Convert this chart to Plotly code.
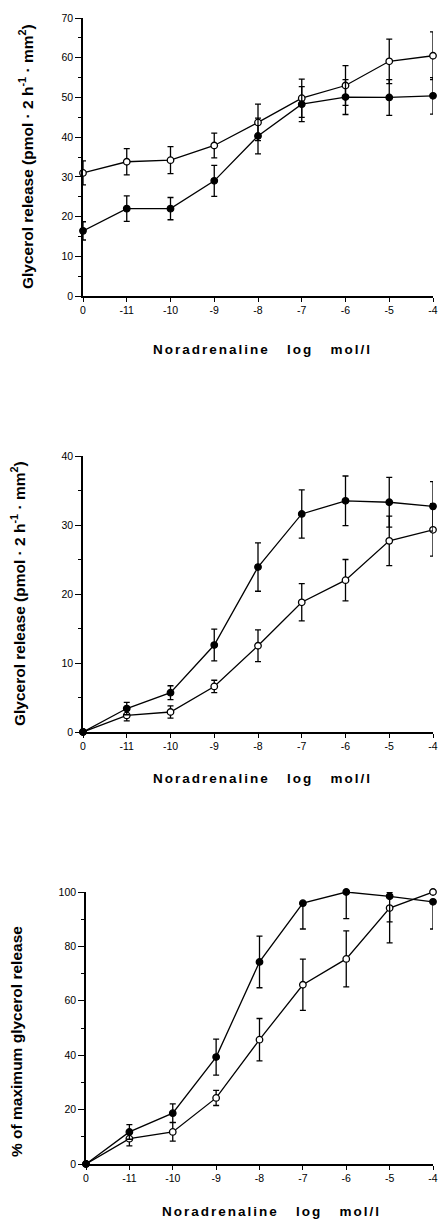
import plotly.graph_objects as go

W, H = 442, 1223

x_labels = ["0", "-11", "-10", "-9", "-8", "-7", "-6", "-5", "-4"]

# Panel 1
p1_filled = [16.4, 22.0, 22.0, 29.0, 40.3, 48.3, 50.1, 50.0, 50.4]
p1_filled_err = [2.3, 3.2, 2.8, 3.9, 4.5, 4.4, 4.4, 4.5, 4.6]
p1_open = [31.0, 33.8, 34.2, 37.9, 43.7, 49.8, 53.0, 59.1, 60.5]
p1_open_err = [3.0, 3.3, 3.4, 3.1, 4.6, 4.8, 5.0, 5.6, 6.0]

# Panel 2
p2_filled = [0, 3.4, 5.7, 12.6, 23.9, 31.6, 33.5, 33.3, 32.7]
p2_filled_err = [0, 0.9, 1.0, 2.3, 3.5, 3.5, 3.6, 3.6, 3.6]
p2_open = [0, 2.4, 2.9, 6.6, 12.5, 18.8, 22.0, 27.7, 29.3]
p2_open_err = [0, 0.8, 0.9, 0.9, 2.3, 2.7, 3.0, 3.6, 3.8]

# Panel 3
p3_filled = [0, 11.8, 18.7, 39.3, 74.3, 95.9, 100.0, 98.4, 96.4]
p3_filled_plus = [0, 2.7, 3.4, 6.6, 9.5, 0, 0, 1.5, 0]
p3_filled_minus = [0, 2.7, 3.4, 6.6, 9.5, 9.5, 9.8, 9.4, 10.0]
p3_open = [0, 9.3, 11.8, 24.3, 45.7, 65.9, 75.4, 94.1, 100.0]
p3_open_plus = [0, 2.6, 3.4, 2.8, 7.8, 9.4, 10.3, 0, 0]
p3_open_minus = [0, 2.6, 3.4, 2.8, 7.8, 9.4, 10.3, 12.8, 0]

y_ranges = [70, 40, 100]
y_dticks = [10, 10, 20]

FONT = "Liberation Sans, Arial, Helvetica, sans-serif"

fig = go.Figure()


def add_series(y, plus, minus, filled, ax):
    fig.add_trace(go.Scatter(
        x=x_labels, y=y,
        mode="lines+markers",
        line=dict(color="black", width=1.3),
        marker=dict(symbol="circle", size=6.5,
                    color="black" if filled else "white",
                    line=dict(color="black", width=1.3)),
        error_y=dict(type="data", array=plus, arrayminus=minus,
                     symmetric=False, color="black", thickness=1.3, width=3),
        xaxis="x" + ("" if ax == 1 else str(ax)),
        yaxis="y" + ("" if ax == 1 else str(ax)),
        cliponaxis=False,
        showlegend=False,
    ))


add_series(p1_open, p1_open_err, p1_open_err, False, 1)
add_series(p1_filled, p1_filled_err, p1_filled_err, True, 1)
add_series(p2_open, p2_open_err, p2_open_err, False, 2)
add_series(p2_filled, p2_filled_err, p2_filled_err, True, 2)
add_series(p3_open, p3_open_plus, p3_open_minus, False, 3)
add_series(p3_filled, p3_filled_plus, p3_filled_minus, True, 3)

# pixel layout of the three panels: (left, right, top, bottom)
panels = [(83, 433, 18, 296), (83, 433, 456, 732), (86, 433, 892, 1164)]

layout = dict(
    width=W, height=H,
    margin=dict(l=0, r=0, t=0, b=0),
    paper_bgcolor="white", plot_bgcolor="white",
    font=dict(family=FONT, color="black", size=10),
)

for i, (l, r, t, b) in enumerate(panels):
    sfx = "" if i == 0 else str(i + 1)
    layout["xaxis" + sfx] = dict(
        domain=[l / W, r / W], anchor="y" + sfx,
        type="category", range=[0, len(x_labels) - 1],
        showline=True, linecolor="black", linewidth=1.5,
        ticks="outside", ticklen=4, tickwidth=1.2, tickcolor="black",
        showgrid=False, zeroline=False, automargin=False,
        tickfont=dict(size=10.5),
    )
    layout["yaxis" + sfx] = dict(
        domain=[1 - b / H, 1 - t / H], anchor="x" + sfx,
        range=[0, y_ranges[i]], dtick=y_dticks[i], tick0=0,
        showline=True, linecolor="black", linewidth=1.5,
        ticks="outside", ticklen=6, tickwidth=1.2, tickcolor="black",
        minor=dict(ticks="outside", ticklen=3, dtick=y_dticks[i] / 2,
                   tickcolor="black", tickwidth=1),
        showgrid=False, zeroline=False, automargin=False,
        tickfont=dict(size=10.5),
    )

ylabel_glyc = "Glycerol release (pmol · 2 h<sup>-1</sup> · mm<sup>2</sup>)"
ytitles = [ylabel_glyc, ylabel_glyc, "% of maximum glycerol release"]
ytitle_pos = [(26, 157), (18, 594), (16, 1042)]
xtitle_pos = [(262, 349), (262, 778), (271, 1211)]
xtitle = ('<span style="letter-spacing:2px">Noradrenaline&nbsp;&nbsp;&nbsp;'
          'log&nbsp;&nbsp;&nbsp;mol/l</span>')

ann = []
for i in range(3):
    x, y = ytitle_pos[i]
    ann.append(dict(text="<b>" + ytitles[i] + "</b>", x=x / W, y=1 - y / H,
                    xref="paper", yref="paper", showarrow=False, textangle=-90,
                    xanchor="center", yanchor="middle",
                    font=dict(size=15.5, family=FONT)))
    x, y = xtitle_pos[i]
    ann.append(dict(text="<b>" + xtitle + "</b>", x=x / W, y=1 - y / H,
                    xref="paper", yref="paper", showarrow=False,
                    xanchor="center", yanchor="middle",
                    font=dict(size=13.5, family=FONT)))
layout["annotations"] = ann

fig.update_layout(**layout)
fig.write_html(
    "out.html",
    config={"displayModeBar": False},
    post_script="document.body.style.margin='0';document.body.style.padding='0';"
                "document.body.style.overflow='hidden';",
)
